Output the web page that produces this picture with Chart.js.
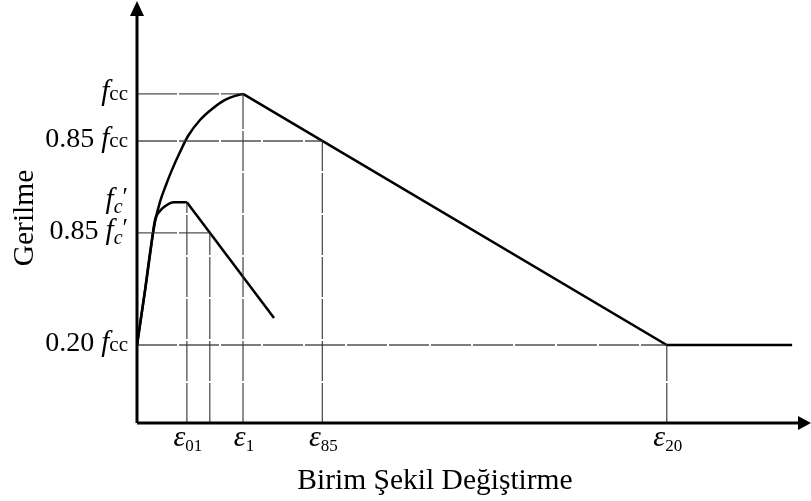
<!DOCTYPE html>
<html>
<head>
<meta charset="utf-8">
<script src="https://cdn.jsdelivr.net/npm/chart.js@4.4.1/dist/chart.umd.min.js"></script>
<style>
  html, body { margin: 0; padding: 0; background: #fff; }
</style>
</head>
<body>
<canvas id="diagram" width="811" height="501"></canvas>
<script>
// strain axis in arbitrary units, stress as a fraction of fcc
const strainMin = 0, strainMax = 100;
const stressMin = -0.0486, stressMax = 1.293;

// confined concrete: rising branch up to fcc, then linear softening down to 0.20 fcc
const confinedRiseX = [0, 1.19, 1.93, 2.67, 3.41, 4.30, 5.19, 6.38, 7.57, 9.35, 11.13, 13.06, 14.54, 15.73];
const confinedRiseY = [0.2, 0.375, 0.493, 0.592, 0.656, 0.710, 0.758, 0.815, 0.866, 0.917, 0.952, 0.981, 0.994, 1.0];
const confinedFallX = [15.73, 78.6, 97.2];
const confinedFallY = [1.0, 0.2, 0.2];

// unconfined concrete: peak fc' = 0.655 fcc
const unconfinedRiseX = [0, 1.19, 1.93, 2.67, 3.41, 4.01, 5.49, 7.4];
const unconfinedRiseY = [0.2, 0.372, 0.487, 0.598, 0.627, 0.640, 0.655, 0.655];
const unconfinedFallX = [7.4, 20.33];
const unconfinedFallY = [0.655, 0.286];

// guide lines: horizontal from the stress axis, vertical from the strain axis
const guideHY = [1.0, 0.85, 0.557, 0.2];
const guideHEnd = [15.73, 27.5, 10.8, 78.6];
const guideVX = [7.4, 10.8, 15.73, 27.5, 78.6];
const guideVTop = [0.655, 0.557, 1.0, 0.85, 0.2];

// strain ticks (epsilon with subscript)
const strainTickX = [7.4, 15.73, 27.5, 78.6];
const strainTickSub = ['01', '1', '85', '20'];

// stress ticks, each label as [text, style] runs
const stressTickY = [1.0, 0.85, 0.655, 0.557, 0.2];
const stressTickLabels = [
  [['f', 'it'], ['cc', 'rm']],
  [['0.85 ', 'num'], ['f', 'it'], ['cc', 'rm']],
  [['f', 'it'], ['c', 'sub'], ['\u2032', 'pr']],
  [['0.85 ', 'num'], ['f', 'it'], ['c', 'sub'], ['\u2032', 'pr']],
  [['0.20 ', 'num'], ['f', 'it'], ['cc', 'rm']]
];

const xTitle = 'Birim Şekil Değiştirme';
const yTitle = 'Gerilme';

const serif = '"Liberation Serif", "Times New Roman", serif';
const runStyles = {
  num: { font: '28px ' + serif, dy: 0 },
  it:  { font: 'italic 29px ' + serif, dy: 0 },
  rm:  { font: '21px ' + serif, dy: 0 },
  sub: { font: 'italic 20px ' + serif, dy: 5 },
  pr:  { font: '25px ' + serif, dy: -3 },
  eps: { font: 'italic 30px ' + serif, dy: 0 },
  epsSub: { font: '17px ' + serif, dy: 5 }
};

function points(xs, ys) {
  return xs.map((x, i) => ({ x: x, y: ys[i] }));
}

function curve(xs, ys, smooth) {
  return {
    data: points(xs, ys),
    borderColor: '#000',
    borderWidth: 2.5,
    pointRadius: 0,
    fill: false,
    tension: 0,
    cubicInterpolationMode: smooth ? 'monotone' : 'default'
  };
}

function guide(p0, p1) {
  return {
    data: [p0, p1],
    borderColor: 'rgba(50,50,50,0.85)',
    borderWidth: 1.3,
    borderDash: [40, 2],
    pointRadius: 0,
    fill: false,
    tension: 0
  };
}

const datasets = [];
guideHY.forEach((y, i) => datasets.push(guide({ x: 0, y: y }, { x: guideHEnd[i], y: y })));
guideVX.forEach((x, i) => datasets.push(guide({ x: x, y: stressMin }, { x: x, y: guideVTop[i] })));
datasets.push(curve(confinedRiseX, confinedRiseY, true));
datasets.push(curve(confinedFallX, confinedFallY, false));
datasets.push(curve(unconfinedRiseX, unconfinedRiseY, true));
datasets.push(curve(unconfinedFallX, unconfinedFallY, false));

function drawRuns(ctx, runs, x, y, align) {
  let w = 0;
  runs.forEach(r => { ctx.font = runStyles[r[1]].font; w += ctx.measureText(r[0]).width; });
  let cx = align === 'right' ? x - w : align === 'center' ? x - w / 2 : x;
  runs.forEach(r => {
    const s = runStyles[r[1]];
    ctx.font = s.font;
    ctx.fillText(r[0], cx, y + s.dy);
    cx += ctx.measureText(r[0]).width;
  });
}

// axes with arrow heads, tick labels and titles
const axesPlugin = {
  id: 'axesPlugin',
  afterDatasetsDraw(chart) {
    const ctx = chart.ctx;
    const xs = chart.scales.x, ys = chart.scales.y;
    const ox = xs.getPixelForValue(0);
    const oy = ys.getPixelForValue(stressMin);
    const right = xs.getPixelForValue(strainMax);
    const top = ys.getPixelForValue(stressMax);

    ctx.save();
    ctx.strokeStyle = '#000';
    ctx.fillStyle = '#000';
    ctx.lineWidth = 3;
    ctx.beginPath();
    ctx.moveTo(ox, oy);
    ctx.lineTo(right - 10, oy);
    ctx.moveTo(ox, oy);
    ctx.lineTo(ox, top + 10);
    ctx.stroke();

    ctx.beginPath();
    ctx.moveTo(right, oy);
    ctx.lineTo(right - 13, oy - 7);
    ctx.lineTo(right - 13, oy + 7);
    ctx.closePath();
    ctx.fill();
    ctx.beginPath();
    ctx.moveTo(ox, top - 1);
    ctx.lineTo(ox - 7, top + 14);
    ctx.lineTo(ox + 7, top + 14);
    ctx.closePath();
    ctx.fill();

    ctx.textBaseline = 'alphabetic';
    stressTickY.forEach((v, i) => {
      drawRuns(ctx, stressTickLabels[i], 128, ys.getPixelForValue(v) + 6, 'right');
    });

    strainTickX.forEach((v, i) => {
      const runs = [['\u03b5', 'eps'], [strainTickSub[i], 'epsSub']];
      drawRuns(ctx, runs, xs.getPixelForValue(v) + 1, 446, 'center');
    });

    ctx.font = '29.5px ' + serif;
    ctx.textAlign = 'center';
    ctx.fillText(xTitle, 435, 489);

    ctx.translate(33, 218);
    ctx.rotate(-Math.PI / 2);
    ctx.fillText(yTitle, 0, 0);
    ctx.restore();
  }
};

new Chart(document.getElementById('diagram'), {
  type: 'line',
  data: { datasets: datasets },
  options: {
    responsive: false,
    animation: false,
    devicePixelRatio: 1,
    layout: { padding: { left: 137, right: 0, top: 2, bottom: 78 } },
    scales: {
      x: { type: 'linear', min: strainMin, max: strainMax, display: false },
      y: { type: 'linear', min: stressMin, max: stressMax, display: false }
    },
    plugins: {
      legend: { display: false },
      tooltip: { enabled: false }
    }
  },
  plugins: [axesPlugin]
});
</script>
</body>
</html>
